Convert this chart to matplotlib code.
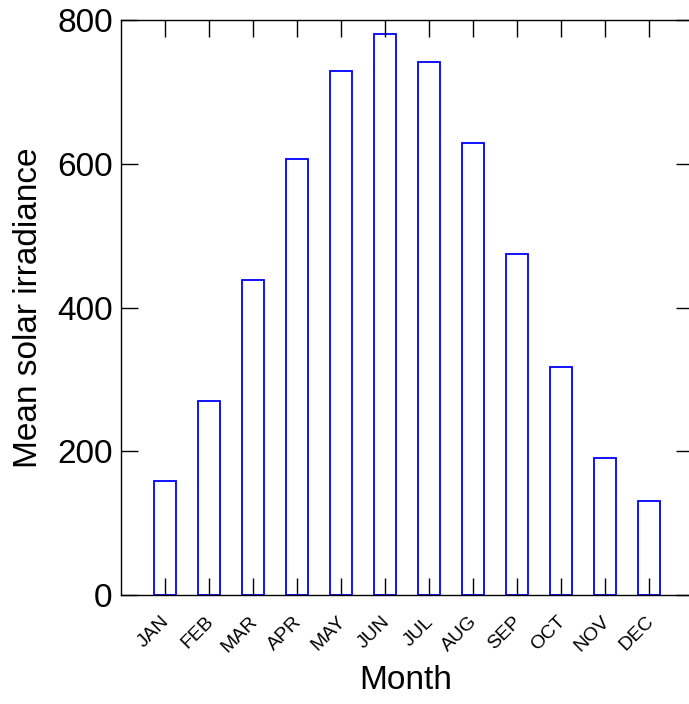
import matplotlib
matplotlib.use("Agg")
import matplotlib.pyplot as plt
import matplotlib.transforms as mtransforms
import numpy as np

plt.rcParams['font.family'] = ['Liberation Sans', 'DejaVu Sans']

months = ['JAN', 'FEB', 'MAR', 'APR', 'MAY', 'JUN',
          'JUL', 'AUG', 'SEP', 'OCT', 'NOV', 'DEC']
irradiance = [159, 270, 438, 607, 729, 780, 742, 629, 474, 317, 190, 131]

fig = plt.figure(figsize=(6.89, 7.04), dpi=100)
ax = fig.add_axes([121 / 689, 109 / 704, 572 / 689, 575 / 704])

x = np.arange(1, len(months) + 1)
ax.bar(x, irradiance, width=0.52, facecolor='none', edgecolor='blue', linewidth=1.3)

ax.set_xlim(0, 13)
ax.set_ylim(0, 800)
ax.set_xticks(x)
ax.set_xticklabels(months, rotation=45, ha='right', va='top', fontsize=14)
ax.set_yticks([0, 200, 400, 600, 800])
ax.tick_params(axis='y', labelsize=24, pad=6)
ax.tick_params(direction='in', length=12, width=1, top=True, right=True)
ax.tick_params(axis='x', pad=13)
for s in ax.spines.values():
    s.set_linewidth(1)

# shift month labels a little to the right
shift = mtransforms.ScaledTranslation(8 / 100, 0, fig.dpi_scale_trans)
for lbl in ax.get_xticklabels():
    lbl.set_transform(lbl.get_transform() + shift)

ax.set_xlabel('Month', fontsize=24)
ax.set_ylabel('Mean solar irradiance', fontsize=24)
ax.xaxis.set_label_coords(0.498, -0.122)
ax.yaxis.set_label_coords(-0.135, 0.5)

fig.savefig('out.png', dpi=100)
